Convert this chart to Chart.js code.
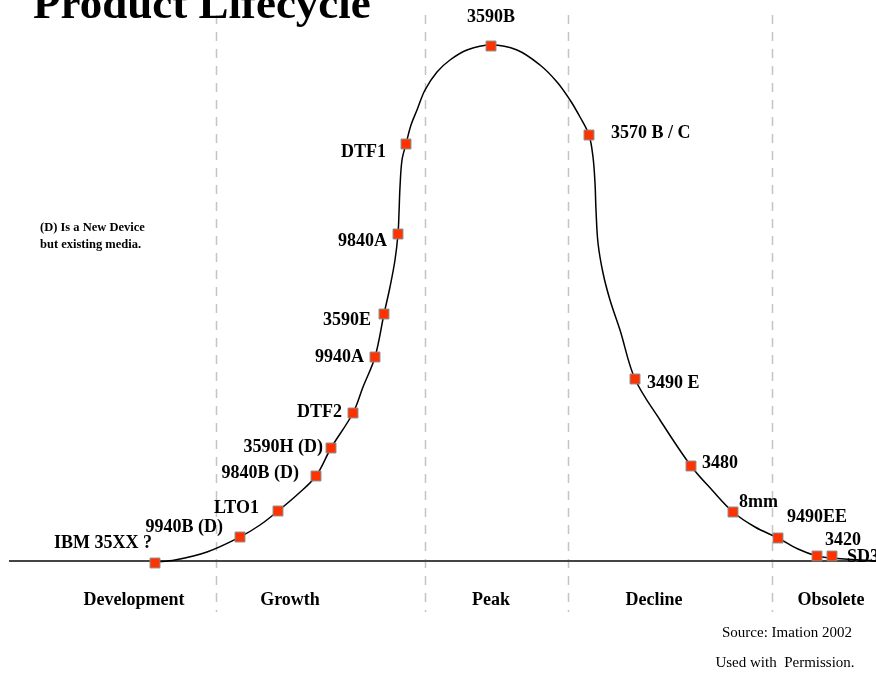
<!DOCTYPE html>
<html>
<head>
<meta charset="utf-8">
<title>Product Lifecycle</title>
<script src="https://cdn.jsdelivr.net/npm/chart.js@4.4.1/dist/chart.umd.min.js"></script>
<style>
  html, body { margin: 0; padding: 0; background: #fff; }
  #lifecycle { display: block; }
</style>
</head>
<body>
<canvas id="lifecycle" width="876" height="674"></canvas>
<script>
// products along the lifecycle: x = position in time, y = adoption above the baseline
const products = ['IBM 35XX ?', '9940B (D)', 'LTO1', '9840B (D)', '3590H (D)', 'DTF2', '9940A', '3590E',
  '9840A', 'DTF1', '3590B', '3570 B / C', '3490 E', '3480', '8mm', '9490EE', '3420', 'SD3'];
const productX = [155, 240, 278, 316, 331, 353, 375, 384, 398, 406, 491, 589, 635, 691, 733, 778, 817, 832];
const productY = [-2, 24, 50, 85, 113, 148, 204, 247, 327, 417, 515, 426, 182, 95, 49, 23, 5, 5];

// the drawn lifecycle curve
const curveX = [155, 175, 207, 240, 260, 278, 298, 316, 331, 353, 363, 375, 384, 390, 395, 398, 399, 400,
  402, 406, 411, 417, 425, 437, 450, 467, 491, 517, 540, 557, 570, 580, 589, 593, 595, 596, 598, 603,
  610, 620, 635, 660, 691, 712, 733, 755, 778, 798, 817, 832, 876];
const curveY = [-1, 1, 9, 24, 36, 50, 67, 85, 113, 148, 174, 204, 247, 274, 301, 327, 348, 374,
  401, 417, 436, 451, 471, 489, 501, 511, 516, 511, 496, 479, 461, 444, 426, 404, 378, 351, 318, 288,
  261, 231, 182, 141, 95, 71, 49, 34, 23, 12, 5, 3, 0];

// phases
const phases = ['Development', 'Growth', 'Peak', 'Decline', 'Obsolete'];
const phaseCenters = [134, 290, 491, 654, 831];
const phaseBounds = [216, 425, 568, 772];

// label placement next to each marker: [dx, dy, align]
const labelPlace = [
  [-3, -20, 'right'], [-17, -10, 'right'], [-19, -3, 'right'], [-17, -3, 'right'], [-8, -1, 'right'],
  [-11, -1, 'right'], [-11, 0, 'right'], [-13, 6, 'right'], [-11, 7, 'right'], [-20, 8, 'right'],
  [0, -29, 'center'], [22, -2, 'left'], [12, 4, 'left'], [11, -3, 'left'], [6, -10, 'left'],
  [9, -21, 'left'], [8, -16, 'left'], [15, 1, 'left'],
];

const SERIF = '"Liberation Serif", "Times New Roman", serif';

const decorations = {
  id: 'decorations',
  beforeDatasetsDraw(chart) {
    const { ctx, scales: { x, y } } = chart;
    ctx.save();
    // phase separators
    ctx.strokeStyle = '#c4c4c4';
    ctx.lineWidth = 1.5;
    ctx.setLineDash([9, 8]);
    phaseBounds.forEach((b) => {
      const px = Math.round(x.getPixelForValue(b)) + 0.5;
      ctx.beginPath();
      ctx.moveTo(px, 15);
      ctx.lineTo(px, 612);
      ctx.stroke();
    });
    ctx.setLineDash([]);
    // baseline
    const by = y.getPixelForValue(0);
    ctx.strokeStyle = '#444';
    ctx.lineWidth = 2;
    ctx.beginPath();
    ctx.moveTo(9, by);
    ctx.lineTo(chart.width, by);
    ctx.stroke();
    ctx.restore();
  },
  afterDatasetsDraw(chart) {
    const { ctx, scales: { x, y } } = chart;
    ctx.save();
    ctx.fillStyle = '#000';
    ctx.textBaseline = 'middle';

    // product labels
    ctx.font = `bold 18px ${SERIF}`;
    products.forEach((name, i) => {
      const [dx, dy, align] = labelPlace[i];
      ctx.textAlign = align;
      ctx.fillText(name, x.getPixelForValue(productX[i]) + dx, y.getPixelForValue(productY[i]) + dy);
    });

    // phase names
    ctx.textAlign = 'center';
    phases.forEach((p, i) => {
      ctx.fillText(p, x.getPixelForValue(phaseCenters[i]), 600);
    });

    // title
    ctx.textAlign = 'left';
    ctx.textBaseline = 'alphabetic';
    ctx.font = `bold 45px ${SERIF}`;
    ctx.fillText('Product Lifecycle', 33, 18);

    // note
    ctx.textBaseline = 'middle';
    ctx.font = `bold 12.5px ${SERIF}`;
    ctx.fillText('(D) Is a New Device', 40, 228);
    ctx.fillText('but existing media.', 40, 245);

    // source
    ctx.textAlign = 'center';
    ctx.font = `15px ${SERIF}`;
    ctx.fillText('Source: Imation 2002', 787, 633);
    ctx.fillText('Used with  Permission.', 785, 663);
    ctx.restore();
  },
};

new Chart(document.getElementById('lifecycle').getContext('2d'), {
  type: 'scatter',
  data: {
    datasets: [
      {
        label: 'Products',
        data: productX.map((v, i) => ({ x: v, y: productY[i] })),
        pointStyle: 'rect',
        pointRadius: 7,
        pointHoverRadius: 7,
        backgroundColor: '#ff3300',
        borderColor: '#8a8a8a',
        borderWidth: 1,
        showLine: false,
      },
      {
        label: 'Lifecycle',
        data: curveX.map((v, i) => ({ x: v, y: curveY[i] })),
        showLine: true,
        borderColor: '#000',
        borderWidth: 1.5,
        pointRadius: 0,
        pointHoverRadius: 0,
        tension: 0.35,
        fill: false,
      },
    ],
  },
  options: {
    responsive: false,
    animation: false,
    layout: { padding: 0, autoPadding: false },
    plugins: { legend: { display: false }, tooltip: { enabled: false }, title: { display: false } },
    scales: {
      x: { type: 'linear', display: false, min: 0, max: 876 },
      y: { type: 'linear', display: false, min: -113, max: 561 },
    },
  },
  plugins: [decorations],
});
</script>
</body>
</html>
